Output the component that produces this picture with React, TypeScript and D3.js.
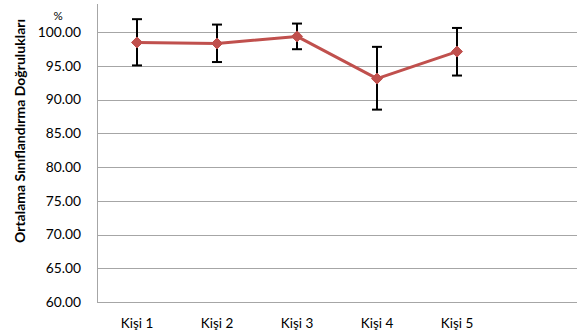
import React from "react";
import * as d3 from "d3";

const categories = ["Kişi 1", "Kişi 2", "Kişi 3", "Kişi 4", "Kişi 5", ""];
const means = [98.45, 98.3, 99.35, 93.1, 97.1];
const errUpper = [101.9, 101.1, 101.25, 97.8, 100.6];
const errLower = [95.05, 95.55, 97.45, 88.5, 93.55];
const yTicks = [60, 65, 70, 75, 80, 85, 90, 95, 100];
const yTitle = "Ortalama Sınıflandırma Doğrulukları";
const unitLabel = "%";

export default function App() {
  const W = 579, H = 336;
  const left = 97, right = 577, top = 4, bottom = 302;
  const x = d3.scaleBand<string>().domain(categories.map((c, i) => c + "#" + i)).range([left, right]).padding(0);
  const y = d3.scaleLinear().domain([60, 100]).range([bottom, 32]);
  const cx = (i: number) => (x(categories[i] + "#" + i) as number) + x.bandwidth() / 2;
  const line = d3.line<number>().x((_, i) => cx(i)).y((d) => y(d));
  const font = "Lato, 'Open Sans', sans-serif";
  const red = "#c0504d";
  return (
    <svg width={W} height={H} style={{ position: "absolute", left: 0, top: 0 }} fontFamily={font}>
      <rect width={W} height={H} fill="#fff" />
      {yTicks.slice(1).map((t) => (
        <line key={t} x1={left} x2={right} y1={Math.round(y(t)) + 0.5} y2={Math.round(y(t)) + 0.5} stroke="#a6a6a6" strokeWidth={1} />
      ))}
      <line x1={left + 0.5} x2={left + 0.5} y1={top} y2={bottom} stroke="#a6a6a6" />
      <line x1={left} x2={right} y1={bottom + 0.5} y2={bottom + 0.5} stroke="#a6a6a6" />
      {yTicks.map((t) => (
        <text key={t} x={81} y={y(t)} dy="0.35em" textAnchor="end" fontSize={13.8} fill="#000">
          {t.toFixed(2)}
        </text>
      ))}
      <text x={58} y={20} textAnchor="middle" fontSize={11.5} fill="#000">{unitLabel}</text>
      <text transform={`translate(25,131) rotate(-90)`} textAnchor="middle" fontSize={14} fontWeight="bold" fill="#000">
        {yTitle}
      </text>
      {categories.map((c, i) => c ? (
        <text key={i} x={cx(i)} y={328} textAnchor="middle" fontSize={13.5} fill="#000">{c}</text>
      ) : null)}
      {means.map((m, i) => (
        <g key={"e" + i} stroke="#000" strokeWidth={2}>
          <line x1={cx(i)} x2={cx(i)} y1={y(errUpper[i])} y2={y(errLower[i])} />
          <line x1={cx(i) - 5} x2={cx(i) + 5} y1={y(errUpper[i])} y2={y(errUpper[i])} />
          <line x1={cx(i) - 5} x2={cx(i) + 5} y1={y(errLower[i])} y2={y(errLower[i])} />
        </g>
      ))}
      <path d={line(means) || ""} fill="none" stroke={red} strokeWidth={3} strokeLinejoin="round" />
      {means.map((m, i) => (
        <path key={"m" + i} d={`M${cx(i)},${y(m) - 5.5}L${cx(i) + 5.5},${y(m)}L${cx(i)},${y(m) + 5.5}L${cx(i) - 5.5},${y(m)}Z`} fill={red} stroke={red} strokeWidth={1} />
      ))}
    </svg>
  );
}
